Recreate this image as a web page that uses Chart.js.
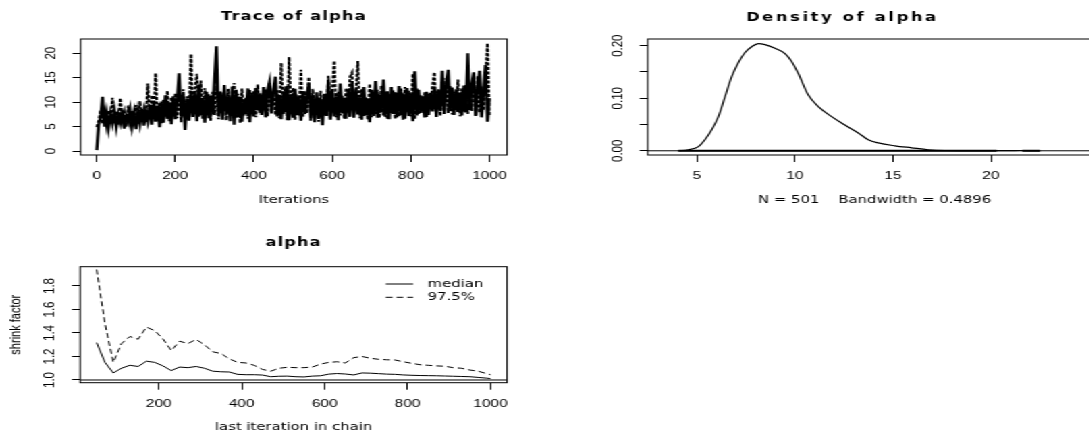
<!DOCTYPE html>
<html>
<head>
<meta charset="utf-8">
<script src="https://cdn.jsdelivr.net/npm/chart.js@4.4.1/dist/chart.umd.min.js"></script>
<style>
  html, body { margin: 0; padding: 0; background: #fff; overflow: hidden; }
  /* the reference is an R device image stretched sideways, so draw narrow and stretch */
  #page { position: absolute; left: 0; top: 0; width: 807px; height: 435px; overflow: hidden;
          transform: scaleX(1.35); transform-origin: 0 0; }
  canvas { position: absolute; }
</style>
</head>
<body>
<div id="page">
  <canvas id="trace" width="404" height="210" style="left:0;top:0"></canvas>
  <canvas id="dens" width="412" height="210" style="left:404px;top:0"></canvas>
  <canvas id="gelman" width="404" height="225" style="left:0;top:210px"></canvas>
</div>
<script>
// ── Data ───────────────────────────────────────────────
// trace of two chains, one value every TRACE_STEP iterations
const TRACE_STEP = 5;
const TRACE_CHAIN1 = [
  0.2, 5.3, 6.9, 11.1, 5.0, 7.8, 4.7, 7.5, 5.6, 8.2,
  4.9, 7.4, 5.8, 8.3, 4.6, 7.1, 6.0, 8.4, 5.1, 7.7,
  4.5, 8.0, 5.6, 8.6, 5.2, 8.1, 6.2, 9.4, 5.4, 10.2,
  6.0, 9.3, 4.9, 10.1, 5.8, 11.4, 6.6, 9.8, 5.5, 11.2,
  6.5, 10.6, 15.9, 7.1, 11.5, 4.3, 10.8, 6.2, 12.3, 7.0,
  11.9, 6.1, 13.6, 7.3, 10.9, 5.8, 12.1, 6.7, 11.3, 7.5,
  14.5, 21.4, 7.2, 12.0, 6.4, 13.5, 7.8, 11.2, 6.1, 13.2,
  5.4, 12.5, 7.0, 11.1, 6.0, 10.4, 7.6, 12.8, 5.9, 11.9,
  7.1, 12.9, 8.3, 11.8, 7.4, 13.1, 6.9, 12.3, 14.1, 7.7,
  12.6, 15.2, 7.1, 11.3, 6.5, 12.1, 7.9, 13.3, 6.3, 11.6,
  6.8, 12.7, 7.4, 10.9, 6.2, 12.2, 7.6, 11.1, 13.8, 6.7,
  11.4, 5.9, 12.0, 6.6, 10.8, 5.3, 11.7, 7.2, 14.5, 6.4,
  12.4, 7.1, 11.2, 6.3, 13.8, 7.7, 10.9, 6.6, 12.6, 7.0,
  14.2, 6.8, 12.8, 7.5, 11.0, 6.4, 13.1, 7.3, 10.7, 5.9,
  12.5, 7.2, 14.3, 6.8, 11.6, 7.9, 14.6, 7.0, 12.2, 6.5,
  13.1, 7.6, 12.0, 6.9, 13.3, 7.4, 11.8, 6.6, 12.9, 7.2,
  11.7, 6.1, 16.3, 7.3, 12.5, 7.8, 11.2, 6.9, 12.1, 7.4,
  11.9, 8.1, 13.2, 7.0, 12.4, 8.3, 16.4, 7.6, 14.0, 16.6,
  8.2, 13.0, 7.4, 12.6, 8.0, 11.9, 7.3, 13.4, 7.9, 20.0,
  8.4, 13.6, 16.1, 7.2, 12.7, 16.4, 6.9, 12.3, 17.6, 6.0,
  10.8
];
const TRACE_CHAIN2 = [
  4.9, 6.2, 8.4, 5.6, 7.9, 5.2, 8.3, 6.1, 10.9, 5.7,
  8.1, 5.3, 10.8, 6.4, 8.0, 4.9, 9.3, 5.8, 8.2, 6.3,
  9.4, 5.6, 10.2, 6.4, 8.5, 5.9, 13.8, 6.5, 11.4, 6.8,
  15.9, 6.3, 9.8, 5.7, 10.6, 6.9, 12.3, 6.1, 11.0, 7.3,
  11.8, 6.7, 13.1, 5.9, 12.6, 6.4, 11.2, 8.0, 19.8, 6.9,
  12.4, 15.8, 7.0, 14.4, 6.6, 12.9, 7.8, 11.6, 6.2, 12.1,
  7.4, 13.3, 6.5, 12.2, 7.9, 11.4, 6.3, 12.7, 7.5, 10.8,
  13.9, 6.8, 11.7, 5.7, 12.8, 7.3, 10.9, 6.6, 12.5, 7.8,
  12.2, 6.9, 13.6, 7.8, 11.5, 8.4, 12.6, 7.1, 13.9, 8.0,
  11.8, 7.4, 12.4, 6.7, 18.0, 7.6, 13.2, 6.3, 19.2, 8.1,
  12.9, 6.4, 11.5, 7.3, 16.6, 6.9, 12.3, 7.7, 15.1, 6.2,
  12.7, 7.5, 10.9, 6.0, 12.3, 6.8, 11.6, 7.4, 15.4, 6.7,
  13.0, 18.4, 6.9, 12.1, 7.3, 11.4, 6.6, 12.9, 7.9, 15.2,
  16.0, 7.4, 11.9, 18.4, 6.7, 12.6, 7.2, 11.1, 6.4, 13.7,
  6.9, 11.8, 7.6, 12.5, 6.8, 13.4, 7.3, 12.1, 6.5, 11.6,
  7.8, 12.4, 6.6, 11.9, 7.1, 12.8, 6.4, 13.1, 8.0, 12.3,
  7.1, 15.8, 6.5, 12.9, 7.5, 11.4, 8.2, 12.0, 7.0, 11.7,
  8.6, 13.4, 16.1, 7.9, 12.7, 7.2, 13.6, 8.1, 14.9, 7.8,
  13.3, 7.5, 12.1, 8.4, 14.6, 7.1, 12.8, 8.0, 13.5, 7.6,
  12.9, 8.2, 14.7, 7.4, 15.3, 7.9, 13.2, 8.3, 14.8, 22.0,
  7.2
];
const TRACE_XTICKS = [0, 200, 400, 600, 800, 1000];
const TRACE_YTICKS = [0, 5, 10, 15, 20];

// kernel density of the pooled draws
const DENS_X = [4.05, 4.56, 5.07, 5.4, 5.75, 6.09, 6.43, 6.77, 7.1, 7.45, 7.79, 8.13, 8.47,
  8.98, 9.49, 9.83, 10.17, 10.68, 11.19, 11.87, 12.55, 13.23, 13.74, 14.25, 15.1, 15.95,
  16.8, 17.65, 19.0, 20.3, 21.0, 21.56, 22.2, 22.5];
const DENS_Y = [0.0, 0.002, 0.008, 0.021, 0.04, 0.065, 0.103, 0.141, 0.167, 0.187, 0.198,
  0.204, 0.202, 0.195, 0.185, 0.17, 0.147, 0.106, 0.084, 0.065, 0.049, 0.034, 0.021, 0.015,
  0.0095, 0.0057, 0.002, 0.0006, 0.0003, 0.0002, 0.0003, 0.0006, 0.0002, 0.0];
// stretches of the x axis covered by observed draws (rug)
const OBS_SEGMENTS = [[4.05, 20.3], [21.6, 22.5]];
const DENS_XTICKS = [5, 10, 15, 20];
const DENS_YTICKS = [0, 0.05, 0.10, 0.15, 0.20];

// Gelman-Rubin shrink factor
const GELMAN_ITER = [50, 70, 90, 110, 130, 150, 170, 190, 210, 230, 250, 270, 290, 310, 330,
  350, 370, 390, 410, 430, 450, 470, 490, 510, 530, 550, 570, 590, 610, 630, 650, 670, 690,
  710, 730, 750, 770, 790, 810, 830, 850, 870, 890, 910, 930, 950, 970, 990, 1000];
const GELMAN_MEDIAN = [1.318, 1.15, 1.06, 1.10, 1.125, 1.115, 1.16, 1.15, 1.12, 1.08, 1.11,
  1.105, 1.115, 1.10, 1.075, 1.07, 1.068, 1.048, 1.045, 1.045, 1.042, 1.028, 1.032, 1.033,
  1.028, 1.026, 1.033, 1.036, 1.05, 1.055, 1.051, 1.043, 1.06, 1.058, 1.054, 1.05, 1.048,
  1.043, 1.04, 1.038, 1.037, 1.036, 1.034, 1.032, 1.03, 1.028, 1.022, 1.016, 1.012];
const GELMAN_975 = [1.94, 1.48, 1.15, 1.31, 1.37, 1.347, 1.45, 1.42, 1.35, 1.25, 1.33, 1.31,
  1.345, 1.30, 1.24, 1.225, 1.18, 1.15, 1.145, 1.125, 1.09, 1.075, 1.10, 1.108, 1.105, 1.105,
  1.11, 1.135, 1.15, 1.155, 1.145, 1.19, 1.20, 1.185, 1.176, 1.172, 1.17, 1.155, 1.142, 1.13,
  1.125, 1.12, 1.117, 1.105, 1.10, 1.085, 1.075, 1.055, 1.045];
const GELMAN_XTICKS = [200, 400, 600, 800, 1000];
const GELMAN_YTICKS = [1.0, 1.2, 1.4, 1.6, 1.8];
const LEGEND_LABELS = ['median', '97.5%'];

// ── Shared styling ─────────────────────────────────────
const TICK_FONT  = { family: '"Liberation Sans", Arial, sans-serif', size: 11.5 };
const LABEL_FONT = { family: '"DejaVu Sans", sans-serif', size: 11 };
const GELMAN_DASH = [5, 3];

function fixedTicks(values) {
    return s => { s.ticks = values.map(v => ({ value: v })); };
}

function xAxis(min, max, ticks, height, title, titlePad) {
    return {
        type: 'linear', position: 'bottom', min, max,
        afterFit: s => { s.height = height; },
        afterBuildTicks: fixedTicks(ticks),
        ticks: { color: '#000', font: TICK_FONT, padding: 7, maxRotation: 0, autoSkip: false,
                 callback: v => String(v) },
        grid: { drawOnChartArea: false, drawTicks: true, tickLength: 7, color: '#000', lineWidth: 1 },
        border: { display: false },
        title: { display: true, text: title, color: '#000', font: LABEL_FONT, padding: { top: 0, bottom: titlePad } }
    };
}

function yAxis(min, max, ticks, width, title) {
    const ax = {
        type: 'linear', position: 'left', min, max,
        afterFit: s => { s.width = width; },
        afterBuildTicks: fixedTicks(ticks),
        // labels are drawn rotated by the decor plugin
        ticks: { color: 'rgba(0,0,0,0)', font: TICK_FONT, autoSkip: false },
        grid: { drawOnChartArea: false, drawTicks: true, tickLength: 6, color: '#000', lineWidth: 1 },
        border: { display: false }
    };
    if (title) ax.title = { display: true, text: title, color: '#000',
        font: { family: '"Liberation Sans", Arial, sans-serif', size: 11 }, padding: { top: 5.8, bottom: 0 } };
    return ax;
}

// ── Decor plugin: box, rotated y labels, main title, ref line, legend ──
const decor = {
    id: 'decor',
    beforeDatasetsDraw(chart, args, opts) {
        if (opts.hline === undefined) return;
        const { ctx, chartArea: a } = chart;
        const y = chart.scales.y.getPixelForValue(opts.hline);
        ctx.save();
        ctx.strokeStyle = '#000'; ctx.lineWidth = 1;
        ctx.beginPath(); ctx.moveTo(a.left, y); ctx.lineTo(a.right, y); ctx.stroke();
        ctx.restore();
    },
    afterDraw(chart, args, opts) {
        const { ctx, chartArea: a } = chart;
        const ys = chart.scales.y;
        ctx.save();
        ctx.strokeStyle = '#000'; ctx.lineWidth = 1;
        ctx.strokeRect(a.left, a.top, a.right - a.left, a.bottom - a.top);

        ctx.fillStyle = '#000';
        ctx.textAlign = 'center'; ctx.textBaseline = 'middle';
        ctx.font = '11.5px "Liberation Sans", Arial, sans-serif';
        ys.ticks.forEach((t, i) => {
            if (i % opts.every !== 0) return;
            ctx.save();
            ctx.translate(a.left - 22, ys.getPixelForValue(t.value));
            ctx.rotate(-Math.PI / 2);
            ctx.fillText(t.value.toFixed(opts.decimals), 0, 0);
            ctx.restore();
        });

        ctx.font = 'bold 12px "DejaVu Sans", sans-serif';
        ctx.letterSpacing = opts.spacing + 'px';
        const tx = opts.titleX !== undefined ? opts.titleX : (a.left + a.right) / 2;
        ctx.fillText(opts.title, tx, opts.titleY);
        ctx.letterSpacing = '0px';

        if (opts.legend) {
            ctx.font = '11px "DejaVu Sans", sans-serif';
            ctx.textAlign = 'left';
            LEGEND_LABELS.forEach((lab, i) => {
                const y = 74 + i * 13.3;
                ctx.setLineDash(i === 0 ? [] : GELMAN_DASH);
                ctx.beginPath(); ctx.moveTo(285.7, y); ctx.lineTo(306.1, y); ctx.stroke();
                ctx.fillText(lab, 316.8, y);
            });
            ctx.setLineDash([]);
        }
        ctx.restore();
    }
};

const common = {
    responsive: false, animation: false, devicePixelRatio: 1, events: [],
    elements: { point: { radius: 0 }, line: { borderColor: '#000', borderWidth: 1, tension: 0 } }
};

// ── Trace ──────────────────────────────────────────────
new Chart(document.getElementById('trace'), {
    type: 'line',
    data: { datasets: [
        { data: TRACE_CHAIN1.map((v, i) => ({ x: i * TRACE_STEP, y: v })), borderColor: '#000', borderWidth: 2.3 },
        { data: TRACE_CHAIN2.map((v, i) => ({ x: i * TRACE_STEP, y: v })), borderColor: '#000', borderWidth: 2, borderDash: [3, 1.5] }
    ] },
    options: { ...common,
        layout: { padding: { top: 39, right: 28.4, bottom: 0, left: 0 } },
        scales: {
            x: xAxis(-41, 1045, TRACE_XTICKS, 55, 'Iterations', 3.4),
            y: yAxis(-0.8, 22.9, TRACE_YTICKS, 59.7)
        },
        plugins: { legend: { display: false }, tooltip: { enabled: false },
            decor: { title: 'Trace of alpha', titleY: 17, spacing: 0.9, decimals: 0, every: 1 } }
    },
    plugins: [decor]
});

// ── Density ────────────────────────────────────────────
new Chart(document.getElementById('dens'), {
    type: 'line',
    data: { datasets: [
        { data: DENS_X.map((x, i) => ({ x, y: DENS_Y[i] })), borderColor: '#000', borderWidth: 1.2, cubicInterpolationMode: 'monotone' },
        ...OBS_SEGMENTS.map(seg => ({ data: seg.map(x => ({ x, y: 0 })), borderColor: '#000', borderWidth: 2 }))
    ] },
    options: { ...common,
        layout: { padding: { top: 39, right: 0, bottom: 0, left: 0 } },
        scales: {
            x: xAxis(2.485, 25.65, DENS_XTICKS, 55, 'N = 501    Bandwidth = 0.4896', 3.4),
            y: yAxis(-0.008, 0.2127, DENS_YTICKS, 75.8)
        },
        plugins: { legend: { display: false }, tooltip: { enabled: false },
            decor: { title: 'Density of alpha', titleY: 18, titleX: 220, spacing: 2.0, decimals: 2, every: 2, hline: 0 } }
    },
    plugins: [decor]
});

// ── Gelman plot ────────────────────────────────────────
new Chart(document.getElementById('gelman'), {
    type: 'line',
    data: { datasets: [
        { data: GELMAN_ITER.map((x, i) => ({ x, y: GELMAN_MEDIAN[i] })), borderColor: '#000', borderWidth: 1 },
        { data: GELMAN_ITER.map((x, i) => ({ x, y: GELMAN_975[i] })), borderColor: '#000', borderWidth: 1, borderDash: GELMAN_DASH }
    ] },
    options: { ...common,
        layout: { padding: { top: 56.7, right: 28.4, bottom: 0, left: 0 } },
        scales: {
            x: xAxis(10, 1040, GELMAN_XTICKS, 52.3, 'last iteration in chain', 1.7),
            y: yAxis(0.977, 1.964, GELMAN_YTICKS, 59.3, 'shrink factor')
        },
        plugins: { legend: { display: false }, tooltip: { enabled: false },
            decor: { title: 'alpha', titleY: 33, spacing: 0.8, decimals: 1, every: 1, hline: 1, legend: true } }
    },
    plugins: [decor]
});
</script>
</body>
</html>
